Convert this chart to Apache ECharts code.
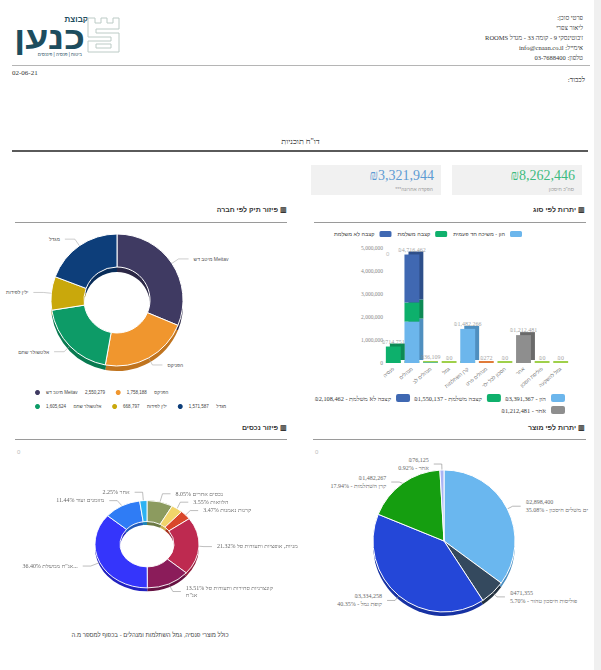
<!DOCTYPE html>
<html><head><meta charset="utf-8">
<script src="https://cdn.jsdelivr.net/npm/echarts@6/dist/echarts.min.js"></script>
<style>
body{margin:0;width:601px;height:670px;position:relative;overflow:hidden;background:#fff;font-family:'Liberation Serif',serif;color:#333}
.a{position:absolute}
.sec{position:absolute;font:bold 7px 'Liberation Sans',sans-serif;color:#333;direction:rtl;white-space:nowrap}
.ln{position:absolute;height:1px;background:#9a9a9a}
.kpi{position:absolute;background:#f1f1f1;height:30px;width:130px}
.kv{position:absolute;right:7px;top:3px;font:14px 'Liberation Serif',serif}
.ks{position:absolute;right:8px;top:21px;font:5px 'Liberation Sans',sans-serif;color:#9a9a9a;direction:rtl}
</style></head>
<body>
<!-- header logo -->
<svg class="a" style="left:10px;top:12px" width="112" height="46">
  <text x="78" y="10" font-family="Liberation Sans" font-weight="bold" font-size="8" fill="#1d4d5e" text-anchor="end">קבוצת</text>
  <text x="75" y="37" font-family="Liberation Sans" font-weight="bold" font-size="32" fill="#1d4d5e" text-anchor="end" textLength="71" lengthAdjust="spacingAndGlyphs">כנען</text>
  <text x="72" y="44" font-family="Liberation Sans" font-size="4.5" fill="#1d4d5e" text-anchor="end">ביטוח | פנסיה | פיננסים</text>
  <g transform="translate(77,5)"><path d="M1 1h7v5h6v-5h6v5h6v-5h6v11H9v4h23v19H1V24h23v-4H1z" fill="none" stroke="#bccbc6" stroke-width="1"/><path d="M9 27h15v4H9z" fill="none" stroke="#bccbc6" stroke-width="1"/></g>
</svg>
<div class="a" style="right:18px;top:13px;font:6.5px/10px 'Liberation Serif';color:#333;text-align:right;direction:rtl;white-space:nowrap">
<div>פרטי סוכן:</div><div>ליאור צפרי</div><div>ז'בוטינסקי 9 - קומה 33 - מגדל ROOMS</div><div>אימייל: info@cnaan.co.il</div><div>טלפון: 03-7688400</div></div>
<div class="ln" style="left:12px;top:65px;width:578px;background:#b5b5b5"></div>
<div class="a" style="left:12px;top:69px;font:7px 'Liberation Serif'">02-06-21</div>
<div class="a" style="right:16px;top:76px;font:7px 'Liberation Serif';direction:rtl">לכבוד:</div>
<div class="a" style="left:0;width:601px;top:137px;text-align:center;font:8px 'Liberation Serif';direction:rtl">דו"ח תוכניות</div>
<div class="a" style="left:12px;top:150px;width:576px;height:2px;background:#5a5a5a"></div>
<!-- KPI -->
<div class="kpi" style="left:452px;top:165px"><div class="kv" id="kpi1" style="color:#3dbb80"></div><div class="ks">סה"כ חיסכון</div></div>
<div class="kpi" style="left:311px;top:165px"><div class="kv" id="kpi2" style="color:#5e9bd3"></div><div class="ks">הפקדה אחרונה***</div></div>
<!-- section headers -->
<div class="sec" style="right:16px;top:206px">▥ יתרות לפי סוג</div>
<div class="ln" style="left:314px;top:222px;width:272px"></div>
<div class="sec" style="right:314px;top:206px">▥ פיזור תיק לפי חברה</div>
<div class="ln" style="left:15px;top:222px;width:272px"></div>
<div class="sec" style="right:16px;top:424px">▥ יתרות לפי מוצר</div>
<div class="ln" style="left:313px;top:439px;width:273px"></div>
<div class="sec" style="right:314px;top:424px">▥ פיזור נכסים</div>
<div class="ln" style="left:15px;top:439px;width:272px"></div>
<div class="a" style="left:17px;top:449px;font:6px 'Liberation Sans';color:#bbb">0</div>
<div class="a" style="left:315px;top:449px;font:6px 'Liberation Sans';color:#bbb">0</div>
<div class="a" style="left:386px;top:251px;font:6px 'Liberation Sans';color:#bbb">0</div>
<!-- charts -->
<div id="c1" class="a" style="left:0;top:225px;width:300px;height:190px"></div>
<div id="c2" class="a" style="left:300px;top:225px;width:301px;height:195px"></div>
<div id="c3" class="a" style="left:0;top:445px;width:300px;height:180px;transform:scaleY(0.84);transform-origin:147px 95px"></div>
<div id="c4" class="a" style="left:300px;top:445px;width:294px;height:200px"></div>
<div class="a" style="left:0;width:300px;top:632px;text-align:center;font:6px 'Liberation Sans';color:#444;direction:rtl">כולל מוצרי פנסיה, גמל השתלמות ומנהלים - בכפוף למספר מ.ה</div>
<div class="a" style="left:594px;top:0;width:7px;height:670px;background:#f0f0f0"></div>
<script>
// ---- data ----
const totalSavings = 8262446;
const lastDeposit = 3321944;

const companyNames = ['מיטב דש Meitav', 'הפניקס', 'אלטשולר שחם', 'ילין לפידות', 'מגדל'];
const companyValues = [2550279, 1758188, 1605624, 668797, 1571587];

const typeCategories = ['פנסיה', 'מנהלים', 'מנהלים לב', 'גמל', 'קרן השתלמות', 'מנהלים פרט', 'חסכון לכל ילד', 'אחר', 'פוליסת חסכון', 'גמל להשקעה'];
const capitalValues = [0, 1800000, 20000, 0, 1482266, 0, 0, 0, 0, 0];
const payingPensionValues = [714751, 830000, 8000, 0, 0, 0, 0, 0, 0, 0];
const nonPayingPensionValues = [0, 2086462, 8109, 0, 0, 0, 0, 0, 0, 0];
const otherValues = [0, 0, 0, 0, 0, 0, 0, 1212481, 0, 0];
const miscValues = [0, 0, 0, 0, 0, 272, 0, 0, 0, 0];
const typeLegendTotals = { 'הון': 3391367, 'קצבה משלמת': 1550137, 'קצבה לא משלמת': 2108462, 'אחר': 1212481 };
const yTicks = [0, 1000000, 2000000, 3000000, 4000000, 5000000];

const assetLabels = ['נכסים אחרים', 'הלוואות', 'קרנות נאמנות', 'מניות, אופציות ותעודות סל', 'קונצרניות סחירות ותעודות סל\nאג"ח', 'אג"ח ממשלתיות סחירות', 'מזומנים ועוד', 'אחר'];
const assetPercents = [8.05, 3.55, 3.47, 21.32, 13.51, 36.40, 11.44, 2.25];

const productNames = ['ים משלים חיסכון', 'פוליסות חיסכון טהור', 'קופת גמל', 'קרן השתלמות', 'אחר'];
const productValues = [2898400, 471355, 3334258, 1482267, 76125];

// ---- helpers ----
const fmt = v => v.toLocaleString('en-US');
document.getElementById('kpi1').textContent = '₪' + fmt(totalSavings);
document.getElementById('kpi2').textContent = '₪' + fmt(lastDeposit);
const SANS = "'Liberation Sans', sans-serif";
const SERIF = "'Liberation Serif', serif";

// ---- chart 1: company donut ----
const c1 = echarts.init(document.getElementById('c1'), null, {renderer: 'svg'});
const compColors = ['#3f3a62', '#f0962e', '#0d9b67', '#c9a80c', '#0d3e7a'];
const compDark = ['#2c2846', '#c0741f', '#087a50', '#9c8208', '#082c59'];
c1.setOption({
  animation: false,
  legend: {
    data: companyNames, left: 28, top: 158, width: 200, icon: 'circle',
    itemWidth: 7, itemHeight: 7, itemGap: 5,
    textStyle: {fontSize: 4.5, color: '#444', fontFamily: SANS},
    formatter: n => n + '      ' + fmt(companyValues[companyNames.indexOf(n)]) + '   '
  },
  series: [{
    type: 'pie', z: 3, center: [117, 75], radius: [33, 66], startAngle: 90, clockwise: true,
    data: companyNames.map((n, i) => ({name: n, value: companyValues[i], itemStyle: {color: compColors[i]}})),
    itemStyle: {borderColor: '#fff', borderWidth: 1},
    label: {fontSize: 5, color: '#555', fontFamily: SANS},
    labelLine: {length: 8, length2: 10, lineStyle: {color: '#aaa', width: 0.6}},
    emphasis: {disabled: true}
  }, {
    type: 'pie', z: 1, silent: true, center: [117, 80], radius: [33, 66], startAngle: 90,
    data: companyNames.map((n, i) => ({name: n, value: companyValues[i], itemStyle: {color: compDark[i]}})),
    label: {show: false}, labelLine: {show: false}, emphasis: {disabled: true}, legendHoverLink: false
  }]
});

// ---- chart 2: stacked bars ----
const c2 = echarts.init(document.getElementById('c2'), null, {renderer: 'svg'});
const totals = typeCategories.map((c, i) => capitalValues[i] + payingPensionValues[i] + nonPayingPensionValues[i] + otherValues[i] + miscValues[i]);
const sh = (dark) => ({shadowColor: dark, shadowOffsetX: 4, shadowOffsetY: -3, shadowBlur: 0});
const legendOrder = ['קצבה לא משלמת', 'קצבה משלמת', 'הון'];
c2.setOption({
  animation: false,
  grid: {left: 84, right: 31, top: 23, bottom: 57},
  legend: [{
    data: legendOrder, right: 74, top: 1, align: 'right', itemWidth: 12, itemHeight: 6, itemGap: 6,
    textStyle: {fontSize: 5.5, color: '#444', fontFamily: SANS},
    formatter: n => n === 'הון' ? 'הון - משיכה חד פעמית' : n
  }, {
    data: legendOrder, right: 31, top: 164, width: 300, align: 'right', itemWidth: 14, itemHeight: 8, itemGap: 4, itemTextGap: 3,
    textStyle: {fontSize: 6.3, color: '#333', fontFamily: SERIF},
    formatter: n => '₪' + fmt(typeLegendTotals[n]) + ' - ' + n
  }, {
    data: ['אחר'], right: 31, top: 176, align: 'right', itemWidth: 14, itemHeight: 8, itemTextGap: 3,
    textStyle: {fontSize: 6.3, color: '#333', fontFamily: SERIF},
    formatter: n => '₪' + fmt(typeLegendTotals[n]) + ' - ' + n
  }],
  xAxis: {
    type: 'category', data: typeCategories,
    axisLine: {show: false}, axisTick: {show: false},
    axisLabel: {rotate: 40, interval: 0, fontSize: 5, color: '#777', fontFamily: SANS, margin: 5}
  },
  yAxis: {
    type: 'value', min: yTicks[0], max: yTicks[yTicks.length - 1], interval: yTicks[1] - yTicks[0],
    splitLine: {show: false}, axisLine: {show: false}, axisTick: {show: false},
    axisLabel: {fontSize: 5.5, color: '#888', fontFamily: SERIF, margin: 1, formatter: v => fmt(v)}
  },
  series: [
    {name: 'שונות', type: 'bar', stack: 't', barWidth: '80%', barMinHeight: 2, data: miscValues.map((v) => ({value: v, itemStyle: {color: v > 0 ? '#e07b3a' : '#9fd04a'}})), emphasis: {disabled: true}},
    {name: 'הון', type: 'bar', stack: 't', data: capitalValues, itemStyle: Object.assign({color: '#6cb6ec'}, sh('#4f8fbf')), emphasis: {disabled: true}},
    {name: 'קצבה משלמת', type: 'bar', stack: 't', data: payingPensionValues, itemStyle: Object.assign({color: '#0fb06c'}, sh('#0b8a54')), emphasis: {disabled: true}},
    {name: 'קצבה לא משלמת', type: 'bar', stack: 't', data: nonPayingPensionValues, itemStyle: Object.assign({color: '#3f68b2'}, sh('#2f4f8a')), emphasis: {disabled: true}},
    {name: 'אחר', type: 'bar', stack: 't', data: otherValues, itemStyle: Object.assign({color: '#8e8e8e'}, sh('#6a6a6a')), emphasis: {disabled: true}},
    {name: 'סה"כ', type: 'scatter', symbolSize: 0, data: totals, silent: true,
     label: {show: true, position: 'top', distance: 2, fontSize: 6, color: '#888', fontFamily: SERIF, formatter: p => '₪' + fmt(p.value)}}
  ]
});

// ---- chart 3: asset donut ----
const c3 = echarts.init(document.getElementById('c3'), null, {renderer: 'svg'});
const assetColors = ['#8c9b5f', '#f1d46a', '#d9472b', '#be2a50', '#8b1c5a', '#3535fb', '#2f7cf5', '#2cb2f2'];
const assetDark = ['#6c7a45', '#c9ad48', '#a9331d', '#921c3b', '#661242', '#2222c0', '#2059b8', '#1d85b8'];
c3.setOption({
  animation: false,
  series: [{
    type: 'pie', z: 3, center: [147, 100], radius: [27, 52], startAngle: 90,
    data: assetLabels.map((n, i) => ({name: n, value: assetPercents[i], itemStyle: {color: assetColors[i]}})),
    itemStyle: {borderColor: '#fff', borderWidth: 1},
    label: {fontSize: 6, color: '#666', fontFamily: SERIF, lineHeight: 8,
      formatter: p => p.value.toFixed(2) + '% ' + p.name},
    labelLine: {length: 10, length2: 8, lineStyle: {color: '#888', width: 0.6}},
    emphasis: {disabled: true}
  }, {
    type: 'pie', z: 1, silent: true, center: [147, 104], radius: [27, 52], startAngle: 90,
    data: assetLabels.map((n, i) => ({name: n, value: assetPercents[i], itemStyle: {color: assetDark[i]}})),
    label: {show: false}, labelLine: {show: false}, emphasis: {disabled: true}
  }]
});

// ---- chart 4: product pie ----
const c4 = echarts.init(document.getElementById('c4'), null, {renderer: 'svg'});
const prodColors = ['#6ab7ef', '#34495e', '#2447d8', '#159e10', '#aab4f5'];
const prodDark = ['#4b8fc2', '#22313f', '#1732a3', '#0e760b', '#8590cc'];
const prodSum = productValues.reduce((a, b) => a + b, 0);
c4.setOption({
  animation: false,
  series: [{
    type: 'pie', z: 3, center: [144, 96], radius: [0, 71], startAngle: 90,
    data: productNames.map((n, i) => ({name: n, value: productValues[i], itemStyle: {color: prodColors[i]}})),
    itemStyle: {borderColor: '#fff', borderWidth: 1},
    label: {fontSize: 6, color: '#666', fontFamily: SERIF, lineHeight: 8,
      formatter: p => '₪' + fmt(p.value) + '\n' + (p.value / prodSum * 100).toFixed(2) + '% - ' + p.name},
    labelLine: {length: 6, length2: 8, lineStyle: {color: '#888', width: 0.6}},
    emphasis: {disabled: true}
  }, {
    type: 'pie', z: 1, silent: true, center: [144, 100], radius: [0, 71], startAngle: 90,
    data: productNames.map((n, i) => ({name: n, value: productValues[i], itemStyle: {color: prodDark[i]}})),
    label: {show: false}, labelLine: {show: false}, emphasis: {disabled: true}
  }]
});
</script>
</body></html>
